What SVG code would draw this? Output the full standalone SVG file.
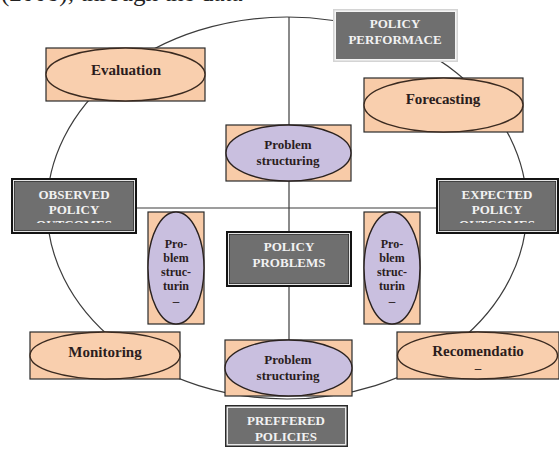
<svg xmlns="http://www.w3.org/2000/svg" width="559" height="452" viewBox="0 0 559 452">
<style>
.lbl{font-family:"Liberation Serif","Times New Roman",serif;font-weight:bold;text-anchor:middle;}
.dk{fill:#2b1d1d;font-size:13px;}
.sm{font-size:12px;}
.big{font-size:15px;}
.wt{fill:#f2f2f2;font-size:13px;}
.peach{fill:#f8cba8;stroke:#2a2a2a;stroke-width:1.2;}
.pe{fill:#f9cfae;stroke:#3a2a20;stroke-width:1.4;}
.lav{fill:#c9bfdf;stroke:#2a2220;stroke-width:1.4;}
.conn{fill:none;stroke:#3c3c3c;stroke-width:1.2;}
.gfill{fill:#6f6f6f;}
</style>
<defs>
<clipPath id="clipObs"><rect x="11" y="178" width="126" height="45"/></clipPath>
<clipPath id="clipExp"><rect x="436" y="178" width="123" height="45"/></clipPath>
</defs>
<rect width="559" height="452" fill="#ffffff"/>
<text x="1" y="0.5" font-family="Liberation Serif, serif" font-size="25" fill="#222">(2008), through the data</text>

<g id="connectors">
<ellipse class="conn" cx="287" cy="208" rx="240" ry="191"/>
<line class="conn" x1="289" y1="17" x2="289" y2="340"/>
<line class="conn" x1="137" y1="208" x2="436" y2="208"/>
</g>

<g id="policy-performace">
<rect x="333" y="9" width="125" height="53" fill="#d4d4d4"/>
<rect x="334.5" y="10.5" width="122" height="50" fill="#f4f4f4"/>
<rect x="336" y="12" width="119" height="47" class="gfill"/>
<text class="lbl wt" x="395" y="28">POLICY</text>
<text class="lbl wt" x="395" y="44">PERFORMACE</text>
</g>

<g id="evaluation">
<rect class="peach" x="46" y="48" width="159" height="53"/>
<ellipse class="pe" cx="125.5" cy="74.5" rx="79.5" ry="26.5"/>
<text class="lbl dk big" x="126" y="75">Evaluation</text>
</g>

<g id="forecasting">
<rect class="peach" x="364" y="78" width="159" height="54"/>
<ellipse class="pe" cx="443.5" cy="105" rx="79.5" ry="27"/>
<text class="lbl dk big" x="443" y="104">Forecasting</text>
</g>

<g id="ps-top">
<rect class="peach" x="226" y="125" width="125" height="56"/>
<ellipse class="lav" cx="288.5" cy="153" rx="62.5" ry="28"/>
<text class="lbl dk" x="288" y="149">Problem</text>
<text class="lbl dk" x="288" y="165">structuring</text>
</g>

<g id="observed">
<rect x="11" y="178" width="126" height="56" fill="#141414"/>
<rect x="13.5" y="180.5" width="121" height="51" fill="none" stroke="#e6e6e6" stroke-width="1"/>
<rect x="14.5" y="181.5" width="119" height="49" class="gfill"/>
<g clip-path="url(#clipObs)">
<text class="lbl wt" x="74" y="199">OBSERVED</text>
<text class="lbl wt" x="74" y="214">POLICY</text>
<text class="lbl wt" x="74" y="229">OUTCOMES</text>
</g>
</g>

<g id="expected">
<rect x="436" y="178" width="123" height="56" fill="#141414"/>
<rect x="438.5" y="180.5" width="118" height="51" fill="none" stroke="#e6e6e6" stroke-width="1"/>
<rect x="439.5" y="181.5" width="116" height="49" class="gfill"/>
<g clip-path="url(#clipExp)">
<text class="lbl wt" x="497" y="199">EXPECTED</text>
<text class="lbl wt" x="497" y="214">POLICY</text>
<text class="lbl wt" x="497" y="229">OUTCOMES</text>
</g>
</g>

<g id="ps-left">
<rect class="peach" x="148" y="212" width="56" height="112"/>
<ellipse class="lav" cx="176" cy="268" rx="28" ry="56"/>
<text class="lbl dk sm" x="176" y="248">Pro-</text>
<text class="lbl dk sm" x="176" y="262">blem</text>
<text class="lbl dk sm" x="176" y="276">struc-</text>
<text class="lbl dk sm" x="176" y="290">turin</text>
<text class="lbl dk" x="176" y="305" font-size="10">–</text>
</g>

<g id="ps-right">
<rect class="peach" x="364" y="212" width="56" height="112"/>
<ellipse class="lav" cx="392" cy="268" rx="28" ry="56"/>
<text class="lbl dk sm" x="392" y="248">Pro-</text>
<text class="lbl dk sm" x="392" y="262">blem</text>
<text class="lbl dk sm" x="392" y="276">struc-</text>
<text class="lbl dk sm" x="392" y="290">turin</text>
<text class="lbl dk" x="392" y="305" font-size="10">–</text>
</g>

<g id="policy-problems">
<rect x="226" y="231" width="126" height="56" fill="#141414"/>
<rect x="228.5" y="233.5" width="121" height="51" fill="none" stroke="#e6e6e6" stroke-width="1"/>
<rect x="229.5" y="234.5" width="119" height="49" class="gfill"/>
<text class="lbl wt" x="289" y="251">POLICY</text>
<text class="lbl wt" x="289" y="267">PROBLEMS</text>
</g>

<g id="monitoring">
<rect class="peach" x="30" y="332" width="150" height="47"/>
<ellipse class="pe" cx="105" cy="355.5" rx="75" ry="23.5"/>
<text class="lbl dk big" x="105" y="357">Monitoring</text>
</g>

<g id="ps-bottom">
<rect class="peach" x="225" y="340" width="127" height="56"/>
<ellipse class="lav" cx="288.5" cy="368" rx="63.5" ry="28"/>
<text class="lbl dk" x="288" y="364">Problem</text>
<text class="lbl dk" x="288" y="380">structuring</text>
</g>

<g id="recomendatio">
<rect class="peach" x="397" y="332" width="162" height="47"/>
<ellipse class="pe" cx="477.5" cy="355.5" rx="80" ry="23.5"/>
<text class="lbl dk big" x="478" y="356">Recomendatio</text>
<text class="lbl dk" x="478" y="372" font-size="10">–</text>
</g>

<g id="preffered">
<rect x="225" y="405" width="123" height="42" fill="#2a2a2a"/>
<rect x="226.5" y="406.5" width="120" height="39" fill="#e8e8e8"/>
<rect x="228" y="408" width="117" height="36" class="gfill"/>
<text class="lbl wt" x="286" y="425">PREFFERED</text>
<text class="lbl wt" x="286" y="441">POLICIES</text>
</g>
</svg>
